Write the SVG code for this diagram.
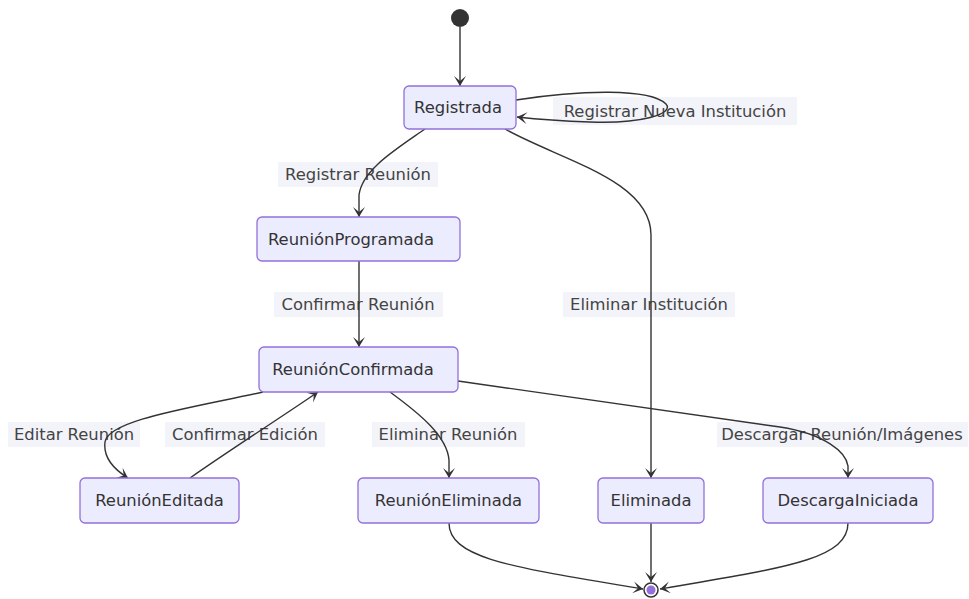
<svg xmlns="http://www.w3.org/2000/svg" width="969" height="599" viewBox="0 0 969 599">
  <defs>
    <marker id="barb" viewBox="0 0 20 14" refX="19" refY="7" markerWidth="20" markerHeight="14" markerUnits="userSpaceOnUse" orient="auto">
      <path d="M19,7 L9,13 L14,7 L9,1 Z" fill="#333"/>
    </marker>
    <style>
      .node rect { fill: #ECECFF; stroke: #9370DB; stroke-width: 1.3; }
      .node text { font-family: "DejaVu Sans", Verdana, sans-serif; font-size: 16.4px; fill: #333; text-anchor: middle; dominant-baseline: central; }
      .edge { fill: none; stroke: #333; stroke-width: 1.4; marker-end: url(#barb); }
      .lbl rect { fill: #F3F3FA; }
      .lbl text { font-family: "DejaVu Sans", Verdana, sans-serif; font-size: 16.4px; fill: #444; text-anchor: middle; dominant-baseline: central; }
    </style>
  </defs>
  <rect width="969" height="599" fill="#ffffff"/>

  <!-- transition labels (drawn under the lines) -->
  <g id="labels">
    <g class="lbl"><rect x="553" y="97" width="244" height="28"/><text x="675" y="111">Registrar Nueva Institución</text></g>
    <g class="lbl"><rect x="278" y="162" width="160" height="25"/><text x="358" y="174.5">Registrar Reunión</text></g>
    <g class="lbl"><rect x="274" y="292" width="169" height="25"/><text x="358" y="304.5">Confirmar Reunión</text></g>
    <g class="lbl"><rect x="563" y="292" width="172" height="25"/><text x="649" y="304.5">Eliminar Institución</text></g>
    <g class="lbl"><rect x="8" y="422" width="132" height="25"/><text x="74" y="434.5">Editar Reunión</text></g>
    <g class="lbl"><rect x="165" y="422" width="160" height="25"/><text x="245" y="434.5">Confirmar Edición</text></g>
    <g class="lbl"><rect x="372" y="422" width="153" height="25"/><text x="448" y="434.5">Eliminar Reunión</text></g>
    <g class="lbl"><rect x="717" y="422" width="251" height="25"/><text x="842" y="434.5">Descargar Reunión/Imágenes</text></g>
  </g>

  <!-- transitions -->
  <g id="edges">
    <path class="edge" d="M460,27 L460,86"/>
    <path class="edge" d="M516,100 C580,90 650,88 666,104 C675,114 640,124 590,122 C560,121 535,119 517,117"/>
    <path class="edge" d="M425,129 C395,150 362,170 359,195 L359,217"/>
    <path class="edge" d="M505,129 C560,160 651,180 651,235 L651,478"/>
    <path class="edge" d="M359,261 L359,347"/>
    <path class="edge" d="M263,392 C190,408 108,420 105,442 C103,458 115,470 128,478"/>
    <path class="edge" d="M190,478 C230,450 280,418 318,392"/>
    <path class="edge" d="M390,392 C420,414 447,436 449,460 L449,478"/>
    <path class="edge" d="M458,381 L780,427 C825,434 846,452 848,466 L848,478"/>
    <path class="edge" d="M449,523 C449,560 520,568 643,589"/>
    <path class="edge" d="M651,523 L651,582"/>
    <path class="edge" d="M848,523 C848,560 782,568 660,589"/>
  </g>

  <!-- start state -->
  <g id="start">
    <circle cx="460" cy="18" r="9" fill="#333"/>
  </g>

  <g id="Registrada" class="node"><rect x="404" y="86" width="112" height="43" rx="5"/><text x="458" y="107.5">Registrada</text></g>
  <g id="ReunionProgramada" class="node"><rect x="257" y="217" width="203" height="44" rx="5"/><text x="351" y="239">ReuniónProgramada</text></g>
  <g id="ReunionConfirmada" class="node"><rect x="259" y="347" width="199" height="45" rx="5"/><text x="353" y="369.5">ReuniónConfirmada</text></g>
  <g id="ReunionEditada" class="node"><rect x="80" y="478" width="159" height="45" rx="5"/><text x="159.5" y="500.5">ReuniónEditada</text></g>
  <g id="ReunionEliminada" class="node"><rect x="358" y="478" width="181" height="45" rx="5"/><text x="448.5" y="500.5">ReuniónEliminada</text></g>
  <g id="Eliminada" class="node"><rect x="598" y="478" width="106" height="45" rx="5"/><text x="651" y="500.5">Eliminada</text></g>
  <g id="DescargaIniciada" class="node"><rect x="763" y="478" width="170" height="45" rx="5"/><text x="848" y="500.5">DescargaIniciada</text></g>

  <!-- end state -->
  <g id="end">
    <circle cx="651" cy="590" r="7" fill="#ffffff" stroke="#333" stroke-width="1.5"/>
    <circle cx="651" cy="590" r="4.5" fill="#9370DB"/>
  </g>
</svg>
